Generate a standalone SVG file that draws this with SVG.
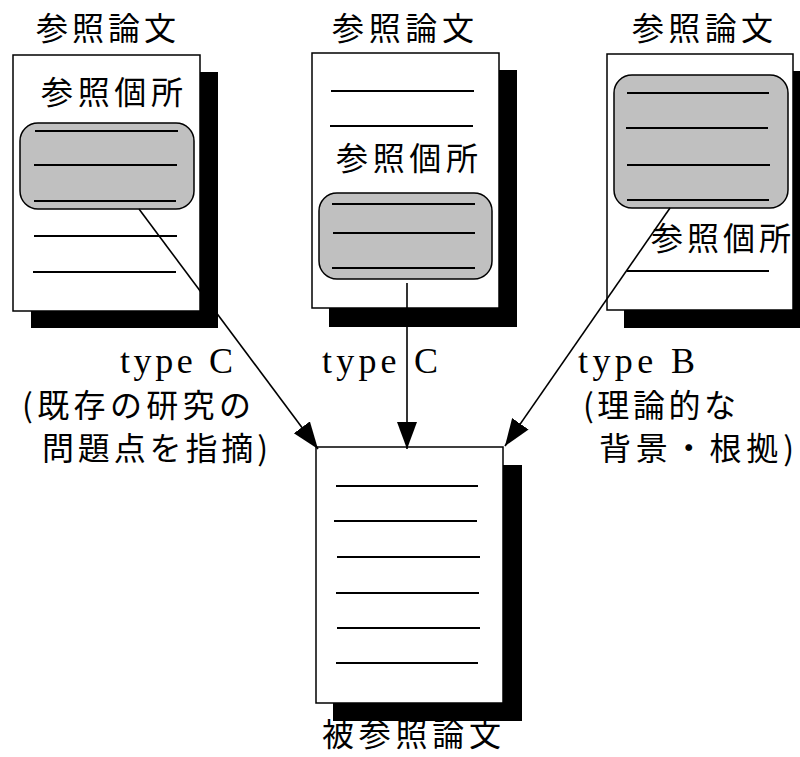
<svg xmlns="http://www.w3.org/2000/svg" width="800" height="757" viewBox="0 0 800 757">
<style>
.page{fill:#fff;stroke:#000;stroke-width:1.5}
.shadow{fill:#000}
.hl{fill:#c0c0c0;stroke:#000;stroke-width:1.5}
.ln{stroke:#000;stroke-width:2}
.cjk{font-family:"Noto Sans CJK JP","Noto Sans CJK SC",sans-serif;font-size:32px;fill:#000}
.lat{font-family:"Liberation Serif",serif;font-size:36px;fill:#000}
.conn{stroke:#000;stroke-width:1.6;fill:none}
</style>
<defs>
<marker id="ah" markerUnits="userSpaceOnUse" markerWidth="30" markerHeight="22" refX="27" refY="10" orient="auto">
<path d="M0,0 L27,10 L0,20 Z" fill="#000"/>
</marker>
</defs>
<rect width="800" height="757" fill="#fff"/>

<g id="doc1">
<rect class="shadow" x="31" y="72" width="187" height="256"/>
<rect class="page" x="13" y="55" width="187" height="256"/>
<text class="cjk" x="36" y="40" textLength="140" lengthAdjust="spacing">参照論文</text>
<text class="cjk" x="41" y="104" textLength="142" lengthAdjust="spacing">参照個所</text>
<rect class="hl" x="20" y="123" width="174" height="86" rx="18"/>
<line class="ln" x1="35" y1="131" x2="178" y2="131"/>
<line class="ln" x1="34" y1="165" x2="177" y2="165"/>
<line class="ln" x1="34" y1="201" x2="176" y2="201"/>
<line class="ln" x1="34" y1="236" x2="177" y2="236"/>
<line class="ln" x1="33" y1="272" x2="176" y2="272"/>
</g>

<g id="doc2">
<rect class="shadow" x="329" y="70" width="188" height="257"/>
<rect class="page" x="312" y="53" width="187" height="255"/>
<text class="cjk" x="332" y="40" textLength="142" lengthAdjust="spacing">参照論文</text>
<line class="ln" x1="331" y1="91" x2="474" y2="91"/>
<line class="ln" x1="330" y1="126" x2="473" y2="126"/>
<text class="cjk" x="336" y="170" textLength="142" lengthAdjust="spacing">参照個所</text>
<rect class="hl" x="319" y="193" width="173" height="86" rx="18"/>
<line class="ln" x1="332" y1="204" x2="475" y2="204"/>
<line class="ln" x1="333" y1="233" x2="475" y2="233"/>
<line class="ln" x1="332" y1="268" x2="475" y2="268"/>
</g>

<g id="doc3">
<rect class="shadow" x="624" y="71" width="190" height="257"/>
<rect class="page" x="607" y="54" width="186" height="256"/>
<text class="cjk" x="632" y="40" textLength="141" lengthAdjust="spacing">参照論文</text>
<rect class="hl" x="614" y="75" width="174" height="133" rx="18"/>
<line class="ln" x1="627" y1="93" x2="769" y2="93"/>
<line class="ln" x1="626" y1="128" x2="768" y2="128"/>
<line class="ln" x1="627" y1="165" x2="770" y2="165"/>
<line class="ln" x1="627" y1="200" x2="769" y2="200"/>
<text class="cjk" x="651" y="250" textLength="140" lengthAdjust="spacing">参照個所</text>
<line class="ln" x1="627" y1="271" x2="769" y2="271"/>
</g>

<g id="target">
<rect class="shadow" x="333" y="465" width="189" height="256"/>
<rect class="page" x="316" y="447" width="187" height="256"/>
<line class="ln" x1="336" y1="486" x2="478" y2="486"/>
<line class="ln" x1="334" y1="521" x2="477" y2="521"/>
<line class="ln" x1="337" y1="557" x2="480" y2="557"/>
<line class="ln" x1="336" y1="593" x2="479" y2="593"/>
<line class="ln" x1="337" y1="628" x2="480" y2="628"/>
<line class="ln" x1="336" y1="663" x2="478" y2="663"/>
<text class="cjk" x="322" y="746" textLength="179" lengthAdjust="spacing">被参照論文</text>
</g>

<g id="labels">
<text class="lat" x="120" y="373" textLength="113" lengthAdjust="spacing">type C</text>
<text class="cjk" x="22" y="417" textLength="229" lengthAdjust="spacing">(既存の研究の</text>
<text class="cjk" x="42" y="460" textLength="226" lengthAdjust="spacing">問題点を指摘)</text>
<text class="lat" x="322" y="373" textLength="116" lengthAdjust="spacing">type C</text>
<text class="lat" x="578" y="373" textLength="117" lengthAdjust="spacing">type B</text>
<text class="cjk" x="583" y="417" textLength="153" lengthAdjust="spacing">(理論的な</text>
<text class="cjk" x="599" y="460" textLength="195" lengthAdjust="spacing">背景・根拠)</text>
</g>

<g id="connectors">
<line class="conn" x1="139" y1="209" x2="318" y2="449" marker-end="url(#ah)"/>
<line class="conn" x1="407" y1="283" x2="407" y2="449" marker-end="url(#ah)"/>
<line class="conn" x1="670" y1="208" x2="505" y2="446" marker-end="url(#ah)"/>
</g>
</svg>
